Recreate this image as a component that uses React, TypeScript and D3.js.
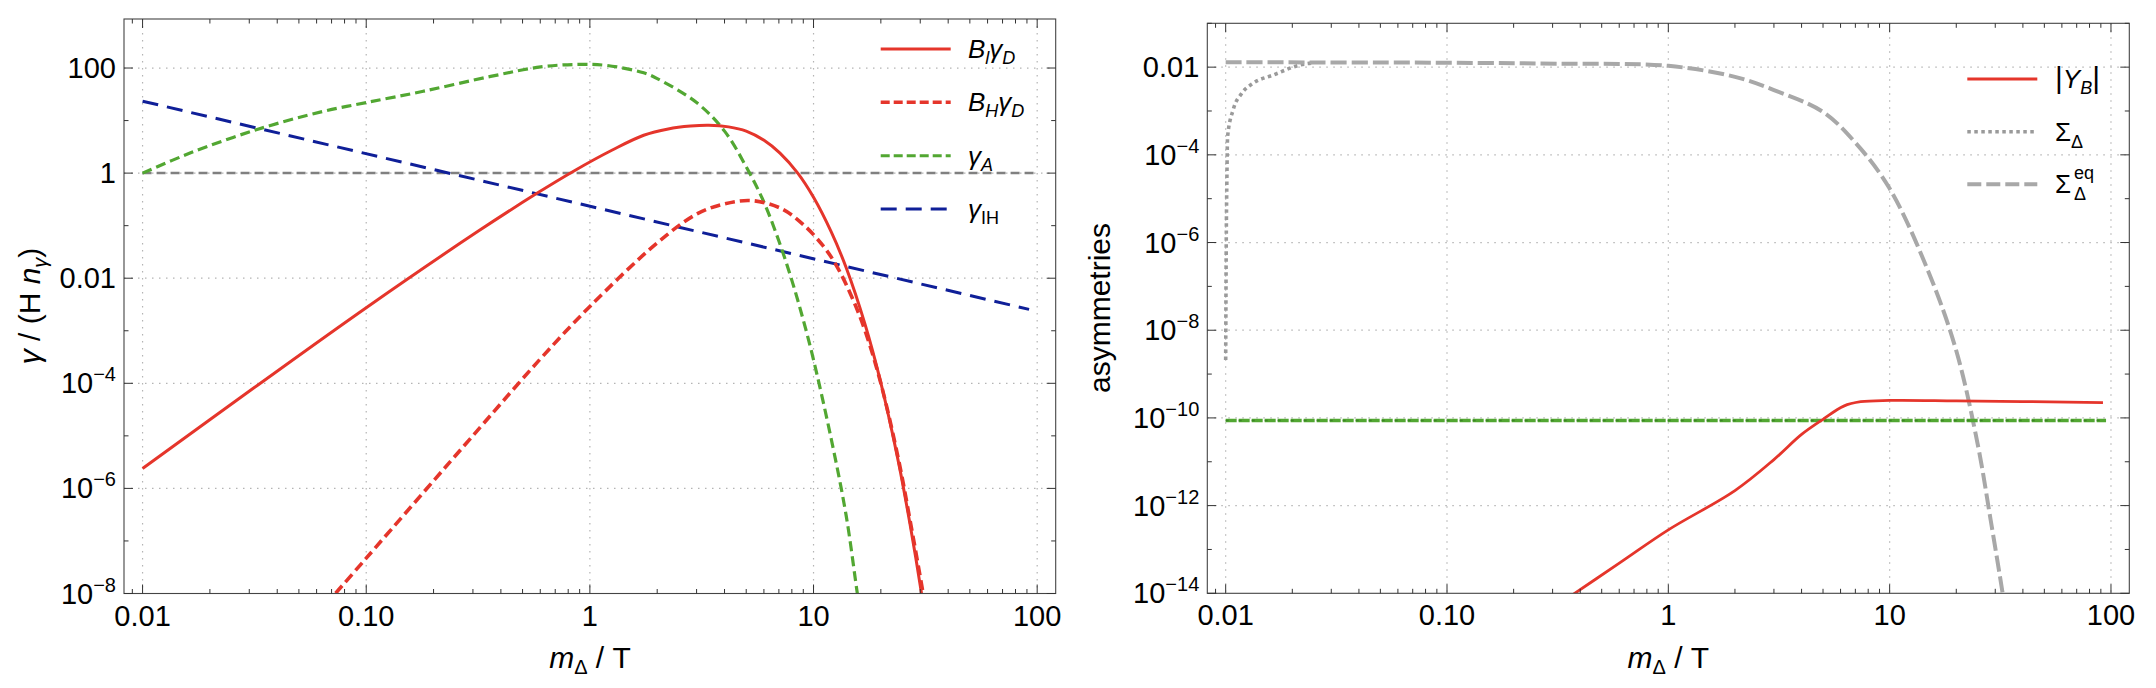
import React from "react";
import * as d3 from "d3";

// ---------- shared axis data ----------
const xDomain = [0.00826, 121.0];
const xTickValues = [0.01, 0.1, 1, 10, 100];
const xTickLabels = ["0.01", "0.10", "1", "10", "100"];

// ---------- left panel ----------
const leftYDomain = [1e-8, 857];
const leftYTickValues = [100, 1, 0.01, 1e-4, 1e-6, 1e-8];
const leftYTickLabels = ["100", "1", "0.01", "10^−4", "10^−6", "10^−8"];

const blGammaDX = [0.01, 0.0316, 0.1, 0.316, 0.582, 0.849, 1.26, 1.74, 2.24, 2.82, 3.4, 4.17, 5.0, 6.03, 7.08, 8.5, 10, 12, 14, 17, 20, 24, 27, 30.4, 33];
const blGammaDY = [2.4e-6, 8.3e-5, 2.75e-3, 0.078, 0.417, 1.1, 2.75, 5.25, 6.92, 7.85, 8.13, 7.59, 6.31, 4.17, 2.4, 1.0, 0.347, 0.076, 0.0158, 1.32e-3, 1.02e-4, 3.1e-6, 2.1e-7, 1e-8, 9.1e-10];

const bhGammaDX = [0.066, 0.1, 0.316, 0.6, 1, 2, 3, 4, 5.3, 7.2, 9, 11, 12.6, 14.8, 17, 20, 24, 27, 30.9, 34];
const bhGammaDY = [6.2e-9, 4.7e-8, 1.3e-5, 2.9e-4, 2.9e-3, 0.047, 0.166, 0.26, 0.3, 0.21, 0.105, 0.042, 0.018, 4.5e-3, 1.0e-3, 1.0e-4, 3.5e-6, 2.5e-7, 1e-8, 8e-10];

const gammaAX = [0.01, 0.0164, 0.0325, 0.0647, 0.1, 0.181, 0.36, 0.603, 0.877, 1.19, 1.74, 2.0, 3, 4, 5, 6, 7, 8, 9, 10, 12, 14, 15.7, 16.5];
const gammaAY = [1, 2.43, 6.76, 15.1, 22, 36.3, 69.2, 105, 117, 112, 81, 63, 22, 6.3, 1.32, 0.28, 0.051, 9.1e-3, 1.6e-3, 2.8e-4, 8.7e-6, 3.0e-7, 1e-8, 2.5e-9];

const gammaIHX = [0.01, 92];
const gammaIHY = [23.4, 0.00255];

const unitLineX = [0.01, 100];
const unitLineY = [1, 1];

// ---------- right panel ----------
const rightYDomain = [1e-14, 0.1];
const rightYTickValues = [0.01, 1e-4, 1e-6, 1e-8, 1e-10, 1e-12, 1e-14];
const rightYTickLabels = ["0.01", "10^−4", "10^−6", "10^−8", "10^−10", "10^−12", "10^−14"];

const yBX = [0.33, 0.605, 1, 2, 3, 4, 5, 6.2, 7.4, 10, 20, 92];
const yBY = [6.3e-15, 5.0e-14, 2.8e-13, 2.2e-12, 1.12e-11, 4.2e-11, 9.3e-11, 1.86e-10, 2.34e-10, 2.5e-10, 2.45e-10, 2.24e-10];

const greenFlatX = [0.01, 95];
const greenFlatY = [8.7e-11, 8.7e-11];

const sigmaX = [0.01, 0.01006, 0.01013, 0.0102, 0.0108, 0.0118, 0.0133, 0.0164, 0.0217, 0.025];
const sigmaY = [2.1e-9, 1e-6, 3.2e-5, 2.6e-4, 1.05e-3, 2.5e-3, 4.3e-3, 6.6e-3, 0.0112, 0.0126];

const sigmaEqX = [0.01, 0.1, 0.316, 1, 2, 3, 5, 7, 10, 15, 20, 25, 28.6, 32.4, 34];
const sigmaEqY = [0.0129, 0.0126, 0.012, 0.0107, 6.0e-3, 3.0e-3, 9.5e-4, 1.9e-4, 1.7e-5, 2.1e-7, 3.4e-9, 2.5e-11, 4.7e-13, 1e-14, 2e-15];

// ---------- styling ----------
const FONT = "'Liberation Sans', Arial, Helvetica, sans-serif";
const RED = "#e5352b";
const GREEN = "#52a732";
const BLUE = "#0f1f98";

type Box = { x0: number; x1: number; y0: number; y1: number };
type Series = {
  xs: number[];
  ys: number[];
  color: string;
  width: number;
  dash?: string;
  curve?: "linear" | "smooth" | "monotone";
};

function zip(xs: number[], ys: number[]): [number, number][] {
  return xs.map((x, i) => [x, ys[i]]);
}

function tickLabel(label: string) {
  if (label.includes("^")) {
    const [b, e] = label.split("^");
    return (
      <>
        {b}
        <tspan dy={-12} fontSize={20}>
          {e}
        </tspan>
      </>
    );
  }
  return label;
}

function Panel({
  id,
  box,
  yDomain,
  yTickValues,
  yTickLabels,
  series,
}: {
  id: string;
  box: Box;
  yDomain: number[];
  yTickValues: number[];
  yTickLabels: string[];
  series: Series[];
}) {
  const x = d3.scaleLog().domain(xDomain).range([box.x0, box.x1]);
  const y = d3.scaleLog().domain(yDomain).range([box.y1, box.y0]);

  const xMinor: { v: number; major: boolean }[] = [];
  for (let d = -3; d <= 2; d++) {
    for (let k = 1; k <= 9; k++) {
      const v = k * Math.pow(10, d);
      if (v >= xDomain[0] && v <= xDomain[1]) xMinor.push({ v, major: k === 1 });
    }
  }
  const yTicks: { v: number; major: boolean }[] = [];
  const lo = Math.ceil(Math.log10(yDomain[0]) - 1e-9);
  const hi = Math.floor(Math.log10(yDomain[1]) + 1e-9);
  for (let e = lo; e <= hi; e++) {
    const v = Math.pow(10, e);
    const major = yTickValues.some((t) => Math.abs(Math.log10(t) - e) < 1e-6);
    yTicks.push({ v, major });
  }

  const MAJ = 9;
  const MIN = 4.5;
  const tickColor = "#333";

  const line = (s: Series) => {
    const c =
      s.curve === "linear"
        ? d3.curveLinear
        : s.curve === "monotone"
        ? d3.curveMonotoneX
        : d3.curveCatmullRom.alpha(0.5);
    return (
      d3
        .line<[number, number]>()
        .x((d) => x(d[0]))
        .y((d) => y(d[1]))
        .curve(c)(zip(s.xs, s.ys)) || ""
    );
  };

  return (
    <g>
      <defs>
        <clipPath id={id}>
          <rect x={box.x0} y={box.y0} width={box.x1 - box.x0} height={box.y1 - box.y0} />
        </clipPath>
      </defs>
      {/* grid */}
      <g stroke="#b4b4b4" strokeWidth={1.2} strokeDasharray="1.5,5.5">
        {xTickValues.map((v) => (
          <line key={"gx" + v} x1={x(v)} x2={x(v)} y1={box.y0} y2={box.y1} />
        ))}
        {yTickValues
          .filter((v) => y(v) > box.y0 + 2 && y(v) < box.y1 - 2)
          .map((v) => (
            <line key={"gy" + v} x1={box.x0} x2={box.x1} y1={y(v)} y2={y(v)} />
          ))}
      </g>
      {/* curves */}
      <g clipPath={`url(#${id})`} fill="none">
        {series.map((s, i) => (
          <path
            key={i}
            d={line(s)}
            stroke={s.color}
            strokeWidth={s.width}
            strokeDasharray={s.dash}
            strokeLinecap="butt"
            strokeLinejoin="round"
          />
        ))}
      </g>
      {/* frame */}
      <rect
        x={box.x0}
        y={box.y0}
        width={box.x1 - box.x0}
        height={box.y1 - box.y0}
        fill="none"
        stroke="#444"
        strokeWidth={1.1}
      />
      {/* ticks */}
      <g stroke={tickColor} strokeWidth={1}>
        {xMinor.map((t, i) => {
          const len = t.major ? MAJ : MIN;
          const xv = x(t.v);
          return (
            <g key={"xt" + i}>
              <line x1={xv} x2={xv} y1={box.y1} y2={box.y1 - len} />
              <line x1={xv} x2={xv} y1={box.y0} y2={box.y0 + len} />
            </g>
          );
        })}
        {yTicks.map((t, i) => {
          const len = t.major ? MAJ : MIN;
          const yv = y(t.v);
          return (
            <g key={"yt" + i}>
              <line x1={box.x0} x2={box.x0 + len} y1={yv} y2={yv} />
              <line x1={box.x1} x2={box.x1 - len} y1={yv} y2={yv} />
            </g>
          );
        })}
      </g>
      {/* tick labels */}
      <g fontFamily={FONT} fontSize={29} fill="#000">
        {xTickValues.map((v, i) => (
          <text key={"xl" + i} x={x(v)} y={box.y1 + 32} textAnchor="middle">
            {xTickLabels[i]}
          </text>
        ))}
        {yTickValues.map((v, i) => (
          <text key={"yl" + i} x={box.x0 - 8} y={y(v) + 10} textAnchor="end">
            {tickLabel(yTickLabels[i])}
          </text>
        ))}
      </g>
    </g>
  );
}

const leftBox: Box = { x0: 124, x1: 1055.7, y0: 19, y1: 593.5 };
const rightBox: Box = { x0: 1207.3, x1: 2129.3, y0: 23.3, y1: 593.3 };

const leftSeries: Series[] = [
  { xs: unitLineX, ys: unitLineY, color: "#808080", width: 2.5, dash: "9,5", curve: "linear" },
  { xs: gammaIHX, ys: gammaIHY, color: BLUE, width: 3, dash: "16,9", curve: "linear" },
  { xs: gammaAX, ys: gammaAY, color: GREEN, width: 3.2, dash: "10,5" },
  { xs: bhGammaDX, ys: bhGammaDY, color: RED, width: 3.6, dash: "10,5" },
  { xs: blGammaDX, ys: blGammaDY, color: RED, width: 3 },
];

const rightSeries: Series[] = [
  { xs: sigmaX, ys: sigmaY, color: "#9a9a9a", width: 3.6, dash: "3.5,3.5", curve: "monotone" },
  { xs: sigmaEqX, ys: sigmaEqY, color: "#a8a8a8", width: 4, dash: "16,5" },
  { xs: greenFlatX, ys: greenFlatY, color: GREEN, width: 3.5, dash: "11,2", curve: "linear" },
  { xs: greenFlatX, ys: greenFlatY, color: "#3b8425", width: 1.4, dash: "3,10", curve: "linear" },
  { xs: yBX, ys: yBY, color: RED, width: 2.8 },
];

export default function App() {
  const legL = { x0: 880.7, x1: 950.7, tx: 968, rows: [49, 102.3, 155.7, 209] };
  const legR = { x0: 1967.3, x1: 2037.3, tx: 2055, rows: [79, 131.7, 184.3] };
  const LF = 26;
  const SF = 18;
  return (
    <svg
      width={2156}
      height={688}
      viewBox="0 0 2156 688"
      style={{ position: "absolute", left: 0, top: 0, background: "#fff" }}
    >
      <rect x={0} y={0} width={2156} height={688} fill="#fff" />
      <Panel
        id="clipL"
        box={leftBox}
        yDomain={leftYDomain}
        yTickValues={leftYTickValues}
        yTickLabels={leftYTickLabels}
        series={leftSeries}
      />
      <Panel
        id="clipR"
        box={rightBox}
        yDomain={rightYDomain}
        yTickValues={rightYTickValues}
        yTickLabels={rightYTickLabels}
        series={rightSeries}
      />

      {/* axis titles */}
      <g fontFamily={FONT} fontSize={30} fill="#000">
        <text transform="translate(29,306) rotate(-90)" textAnchor="middle" dy="0.35em">
          <tspan fontStyle="italic">γ</tspan> / (H <tspan fontStyle="italic">n</tspan>
          <tspan fontSize={20} dy={7} fontStyle="italic">γ</tspan>
          <tspan dy={-7}>)</tspan>
        </text>
        <text transform="translate(1099,308) rotate(-90)" textAnchor="middle" dy="0.35em">
          asymmetries
        </text>
        <text x={590} y={668} textAnchor="middle">
          <tspan fontStyle="italic">m</tspan>
          <tspan fontSize={20} dy={6}>Δ</tspan>
          <tspan dy={-6}> / T</tspan>
        </text>
        <text x={1668.3} y={668} textAnchor="middle">
          <tspan fontStyle="italic">m</tspan>
          <tspan fontSize={20} dy={6}>Δ</tspan>
          <tspan dy={-6}> / T</tspan>
        </text>
      </g>

      {/* left legend */}
      <g fill="none">
        <line x1={legL.x0} x2={legL.x1} y1={legL.rows[0]} y2={legL.rows[0]} stroke={RED} strokeWidth={3} />
        <line x1={legL.x0} x2={legL.x1} y1={legL.rows[1]} y2={legL.rows[1]} stroke={RED} strokeWidth={3.4} strokeDasharray="9,4" />
        <line x1={legL.x0} x2={legL.x1} y1={legL.rows[2]} y2={legL.rows[2]} stroke={GREEN} strokeWidth={3} strokeDasharray="9,4" />
        <line x1={legL.x0} x2={legL.x1} y1={legL.rows[3]} y2={legL.rows[3]} stroke={BLUE} strokeWidth={3} strokeDasharray="16,9" />
      </g>
      <g fontFamily={FONT} fontSize={LF} fill="#000">
        <text x={legL.tx} y={legL.rows[0] + 9}>
          <tspan fontStyle="italic">B</tspan>
          <tspan fontStyle="italic" fontSize={SF} dy={6}>l</tspan>
          <tspan fontStyle="italic" dy={-6}>γ</tspan>
          <tspan fontStyle="italic" fontSize={SF} dy={6}>D</tspan>
        </text>
        <text x={legL.tx} y={legL.rows[1] + 9}>
          <tspan fontStyle="italic">B</tspan>
          <tspan fontStyle="italic" fontSize={SF} dy={6}>H</tspan>
          <tspan fontStyle="italic" dy={-6}>γ</tspan>
          <tspan fontStyle="italic" fontSize={SF} dy={6}>D</tspan>
        </text>
        <text x={legL.tx} y={legL.rows[2] + 9}>
          <tspan fontStyle="italic">γ</tspan>
          <tspan fontStyle="italic" fontSize={SF} dy={6}>A</tspan>
        </text>
        <text x={legL.tx} y={legL.rows[3] + 9}>
          <tspan fontStyle="italic">γ</tspan>
          <tspan fontSize={SF} dy={6}>IH</tspan>
        </text>
      </g>

      {/* right legend */}
      <g fill="none">
        <line x1={legR.x0} x2={legR.x1} y1={legR.rows[0]} y2={legR.rows[0]} stroke={RED} strokeWidth={3} />
        <line x1={legR.x0} x2={legR.x1} y1={legR.rows[1]} y2={legR.rows[1]} stroke="#9a9a9a" strokeWidth={3.4} strokeDasharray="3.5,3.5" />
        <line x1={legR.x0} x2={legR.x1} y1={legR.rows[2]} y2={legR.rows[2]} stroke="#a8a8a8" strokeWidth={4} strokeDasharray="14,5" />
      </g>
      <g fontFamily={FONT} fontSize={LF} fill="#000">
        <text x={legR.tx} y={legR.rows[0] + 9}>
          <tspan fontSize={30}>|</tspan>
          <tspan fontStyle="italic">Y</tspan>
          <tspan fontStyle="italic" fontSize={SF} dy={6}>B</tspan>
          <tspan fontSize={30} dy={-6}>|</tspan>
        </text>
        <text x={legR.tx} y={legR.rows[1] + 9}>
          Σ<tspan fontSize={SF} dy={7}>Δ</tspan>
        </text>
        <text x={legR.tx} y={legR.rows[2] + 9}>Σ</text>
        <text x={legR.tx + 19} y={legR.rows[2] + 16} fontSize={SF}>Δ</text>
        <text x={legR.tx + 19} y={legR.rows[2] - 5} fontSize={SF}>eq</text>
      </g>
    </svg>
  );
}
